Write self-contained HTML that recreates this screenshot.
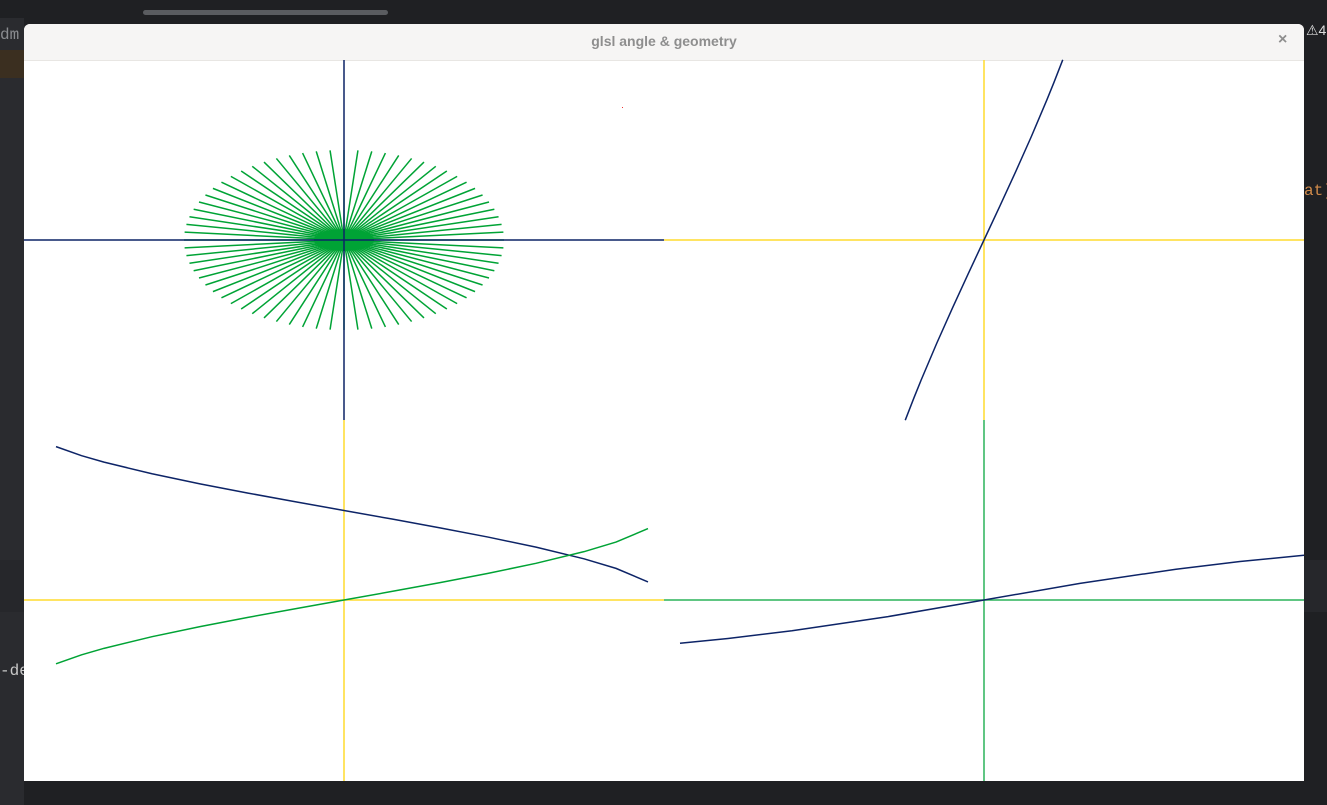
<!DOCTYPE html>
<html><head><meta charset="utf-8"><style>
body{margin:0;width:1327px;height:805px;background:#1f2023;overflow:hidden;position:relative;font-family:"Liberation Sans",sans-serif}
.abs{position:absolute}
</style></head><body>
<div class="abs" style="left:0;top:18px;width:24px;height:787px;background:#2a2b2f"></div>
<div class="abs" style="left:0;top:50px;width:24px;height:28px;background:#3b2f20"></div>
<div class="abs" style="left:0;top:26px;color:#8a8c90;font:16px 'Liberation Mono',monospace">dm</div>
<div class="abs" style="left:0;top:662px;color:#c8c8c8;font:16px 'Liberation Mono',monospace">-de</div>
<div class="abs" style="left:1304px;top:182px;color:#d08a4a;font:16px 'Liberation Mono',monospace">at)</div>
<div class="abs" style="left:1306px;top:22px;color:#ddd;font:14px 'Liberation Sans',sans-serif">⚠4</div>
<div class="abs" style="left:143px;top:10px;width:245px;height:5px;border-radius:3px;background:#5a5c60"></div>
<div class="abs" style="left:0;top:560px;width:1327px;height:52px;background:#26272b"></div>
<div class="abs" style="left:24px;top:24px;width:1280px;height:757px;background:#fff;border-radius:6px 6px 0 0;overflow:hidden">
 <div class="abs" style="left:0;top:0;width:1280px;height:36px;background:#f6f5f4;border-bottom:1px solid #e8e6e3"></div>
 <div class="abs" style="left:0;top:9px;width:1280px;text-align:center;color:#8e8e8e;font-weight:bold;font-size:14px">glsl angle &amp; geometry</div>
 <div class="abs" style="left:1254px;top:7px;color:#8e8e8e;font-weight:bold;font-size:16px">×</div>
</div>
<svg class="abs" style="left:0;top:0" width="1327" height="805" id="svg"></svg>
<script>
const spokeCount = 72;
const spokeRx = 160, spokeRy = 90;
const tanX = [-0.45,-0.40,-0.36,-0.27,-0.18,-0.09,0,0.09,0.18,0.27,0.36,0.40,0.45];
const tanY = [-0.4831,-0.4228,-0.3764,-0.2768,-0.1820,-0.0902,0,0.0902,0.1820,0.2768,0.3764,0.4228,0.4831];
const acX = [-0.9,-0.82,-0.75,-0.6,-0.45,-0.3,-0.15,0,0.15,0.3,0.45,0.6,0.75,0.85,0.95];
const acosY = [2.6906,2.5322,2.4189,2.2143,2.0376,1.8755,1.7214,1.5708,1.4202,1.2661,1.1040,0.9273,0.7227,0.5548,0.3176];
const asinY = [-1.1198,-0.9614,-0.8481,-0.6435,-0.4668,-0.3047,-0.1506,0,0.1506,0.3047,0.4668,0.6435,0.8481,1.0160,1.2532];
const atX = [-0.95,-0.8,-0.6,-0.3,0,0.3,0.6,0.8,1.0];
const atY = [-0.7598,-0.6747,-0.5404,-0.2915,0,0.2915,0.5404,0.6747,0.7854];

const NS='http://www.w3.org/2000/svg', svg=document.getElementById('svg');
function mk(tag,attrs,name){const e=document.createElementNS(NS,tag);for(const k in attrs)e.setAttribute(k,attrs[k]);


svg.appendChild(e);return e;}
function line(x1,y1,x2,y2,c,name){mk('line',{x1,y1,x2,y2,stroke:c,'stroke-width':1.5},name);}
const NAVY='#0d2467', YEL='#ffdc2e', GRN='#00a335', GAX='#2cb45a';
// Q1 spokes
const cx1=344, cy1=240;
for(let i=0;i<spokeCount;i++){const a=i/spokeCount*2*Math.PI;
 line(cx1,cy1,cx1+spokeRx*Math.cos(a),cy1-spokeRy*Math.sin(a),GRN,'spoke-line');}
mk('ellipse',{cx:cx1,cy:cy1,rx:30,ry:11,fill:GRN},'spoke-center');
line(24,240,664,240,NAVY,'q1-x-axis'); line(344,60,344,420,NAVY,'q1-y-axis');
// Q2
line(664,240,1304,240,YEL,'q2-x-axis'); line(984,60,984,420,YEL,'q2-y-axis');
function curve(xs,ys,ox,oy,sx,sy,c,name){mk('polyline',{points:xs.map((x,i)=>(ox+x*sx)+','+(oy-ys[i]*sy)).join(' '),fill:'none',stroke:c,'stroke-width':1.5,'stroke-linejoin':'round'},name);}
curve(tanX,tanY,984,240,175,373,NAVY,'tan-curve');
// Q3
line(24,600,664,600,YEL,'q3-x-axis'); line(344,420,344,781,YEL,'q3-y-axis');
curve(acX,acosY,344,600,320,57,NAVY,'acos-curve');
curve(acX,asinY,344,600,320,57,GRN,'asin-curve');
// Q4
line(664,600,1304,600,GAX,'q4-x-axis'); line(984,420,984,781,GAX,'q4-y-axis');
curve(atX,atY,984,600,320,57,NAVY,'atan-curve');
mk('rect',{x:622,y:107,width:1,height:1,fill:'#e33'},'red-dot');
</script>
</body></html>
